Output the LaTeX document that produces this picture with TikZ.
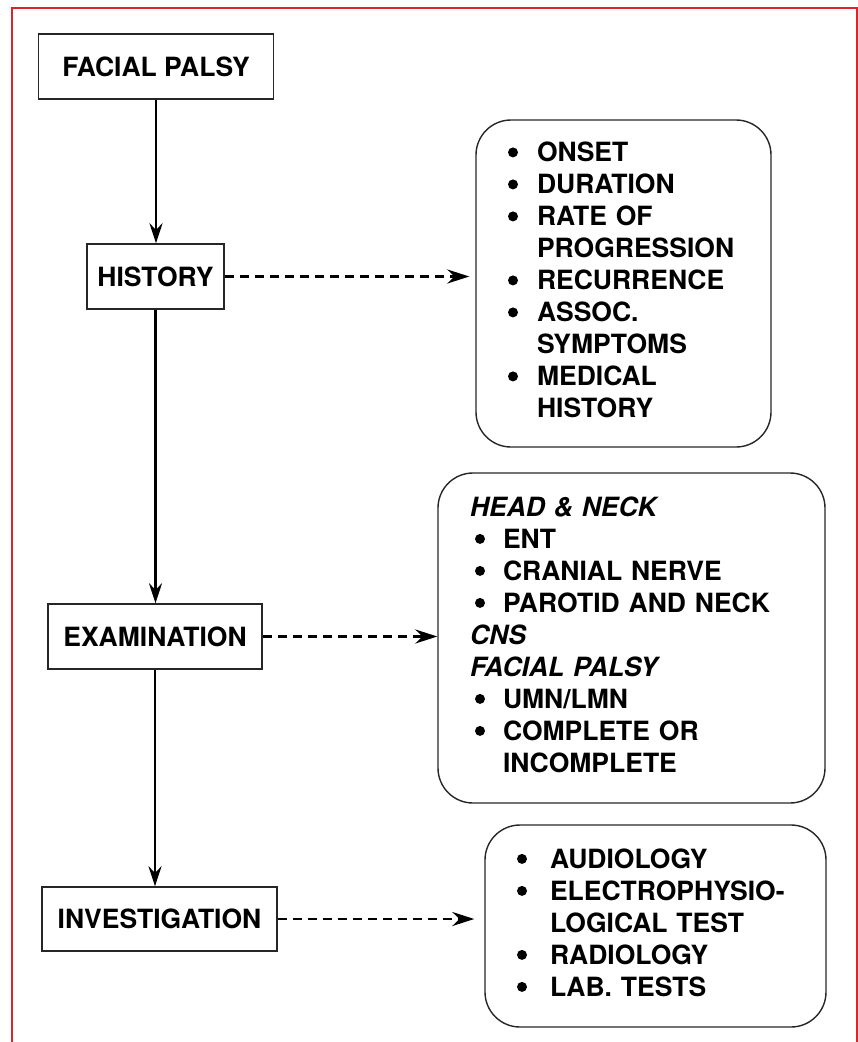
\documentclass[tikz,border=0pt]{standalone}
\usepackage{fontspec}
\setmainfont{TeX Gyre Heros}
\usetikzlibrary{arrows.meta,calc}

\definecolor{framered}{RGB}{218,37,45}
\newcommand{\bigdot}{\tikz[baseline=-9.5pt]\fill (0,0) circle (5pt);}

\tikzset{
  flowbox/.style={draw=black!85, line width=1.4pt, inner sep=0pt, align=center,
    font=\bfseries\fontsize{26.5}{32}\selectfont},
  listbox/.style={draw=black!85, line width=1.4pt, rounded corners=35pt, inner xsep=32pt, inner ysep=0pt,
    align=left, font=\bfseries\fontsize{26.5}{32}\selectfont},
  flowarrow/.style={line width=2.4pt, -{Stealth[length=20pt,width=13pt]}},
  dasharrow/.style={line width=2.6pt, dash pattern=on 9pt off 6pt, -{Stealth[length=22pt,width=14pt]}}
}

\begin{document}
\begin{tikzpicture}[x=1pt,y=-1pt]
  \useasboundingbox (0,0) rectangle (858,1042);

  % Frame
  \draw[framered, line width=1.5pt] (12,1042) -- (12,8) -- (857,8) -- (857,1042);

  % Steps
  \node[flowbox, minimum width=235pt, minimum height=65pt] (palsy) at (156,66.5) {FACIAL PALSY};
  \node[flowbox, minimum width=137pt, minimum height=65pt] (history) at (155.5,276.5) {HISTORY};
  \node[flowbox, minimum width=214pt, minimum height=65pt] (exam) at (155,636.5) {EXAMINATION};
  \node[flowbox, minimum width=235pt, minimum height=64pt] (invest) at (159.5,919) {INVESTIGATION};

  % Details
  \node[listbox, text width=231pt, minimum height=327pt] (histlist) at (623.5,283.5) {%
    \begin{tabular}{@{}p{29pt}@{}l@{}}
      \bigdot & ONSET\\
      \bigdot & DURATION\\
      \bigdot & RATE OF\\
              & PROGRESSION\\
      \bigdot & RECURRENCE\\
      \bigdot & ASSOC.\\
              & SYMPTOMS\\
      \bigdot & MEDICAL\\
              & HISTORY
    \end{tabular}};
  \node[listbox, text width=323pt, minimum height=330pt] (examlist) at (631.5,638) {%
    \begin{tabular}{@{}p{5pt}@{}p{28pt}@{}l@{}}
      \multicolumn{3}{@{}l@{}}{\textit{HEAD \& NECK}}\\
      & \bigdot & ENT\\
      & \bigdot & CRANIAL NERVE\\
      & \bigdot & PAROTID AND NECK\\
      \multicolumn{3}{@{}l@{}}{\textit{CNS}}\\
      \multicolumn{3}{@{}l@{}}{\textit{FACIAL PALSY}}\\
      & \bigdot & UMN/LMN\\
      & \bigdot & COMPLETE OR\\
      &         & INCOMPLETE
    \end{tabular}};
  \node[listbox, text width=277pt, minimum height=202pt] (invlist) at (655.5,926) {%
    \begin{tabular}{@{}p{33pt}@{}l@{}}
      \bigdot & AUDIOLOGY\\
      \bigdot & ELECTROPHYSIO-\\
              & LOGICAL TEST\\
      \bigdot & RADIOLOGY\\
      \bigdot & LAB. TESTS
    \end{tabular}};

  % Flow
  \draw[flowarrow] (palsy.south) -- (palsy.south |- history.north);
  \draw[flowarrow] (history.south) -- (history.south |- exam.north);
  \draw[flowarrow] (exam.south) -- (exam.south |- invest.north);

  % Links to details
  \draw[dasharrow, shorten >=6pt] (history.east) -- (history.east -| histlist.west);
  \draw[dasharrow] (exam.east) -- (exam.east -| examlist.west);
  \draw[dasharrow, shorten >=10pt] (invest.east) -- (invest.east -| invlist.west);
\end{tikzpicture}
\end{document}
